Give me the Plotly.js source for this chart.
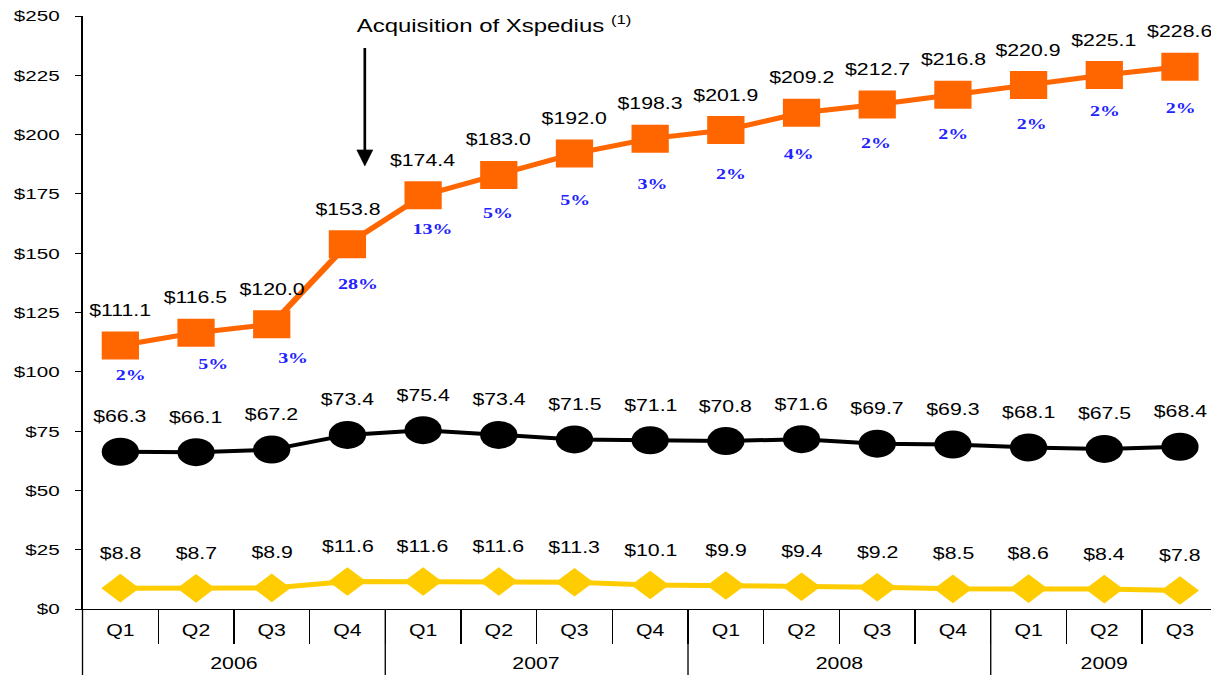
<!DOCTYPE html>
<html>
<head>
<meta charset="utf-8">
<script src="https://cdn.plot.ly/plotly-3.0.1.min.js"></script>
<style>
html, body { margin: 0; padding: 0; background: #fff; overflow: hidden; }
#wrap { width: 1211px; height: 675px; overflow: hidden; }
#chart { width: 910px; height: 675px; transform: scaleX(1.33077); transform-origin: 0 0; }
</style>
</head>
<body>
<div id="wrap"><div id="chart"></div></div>
<script>
// ---- data ----
const quarters = ['Q1','Q2','Q3','Q4','Q1','Q2','Q3','Q4','Q1','Q2','Q3','Q4','Q1','Q2','Q3'];
const years = ['2006','2007','2008','2009'];
const quartersPerYear = [4, 4, 4, 3];
const seriesOrange = [111.1, 116.5, 120.0, 153.8, 174.4, 183.0, 192.0, 198.3, 201.9, 209.2, 212.7, 216.8, 220.9, 225.1, 228.6];
const seriesBlack  = [66.3, 66.1, 67.2, 73.4, 75.4, 73.4, 71.5, 71.1, 70.8, 71.6, 69.7, 69.3, 68.1, 67.5, 68.4];
const seriesYellow = [8.8, 8.7, 8.9, 11.6, 11.6, 11.6, 11.3, 10.1, 9.9, 9.4, 9.2, 8.5, 8.6, 8.4, 7.8];
const growthLabels = ['2%','5%','3%','28%','13%','5%','5%','3%','2%','4%','2%','2%','2%','2%','2%'];
const yTickVals = [0, 25, 50, 75, 100, 125, 150, 175, 200, 225, 250];
const acquisitionText = 'Acquisition of Xspedius <sup>(1)</sup>';

// ---- layout / style constants (not data) ----
const acquisitionX = 3.23;      // arrow sits between 2006 Q4 and 2007 Q1
const acquisitionTipY = 186.8;
// per-label nudges (pixels) for the growth-rate labels, as placed in the original slide
const growthNudgeX = [11, 17, 22, 10, 10, -1, 1, 3, 5, -3, -1, 1, 3, 1, 1];
const growthNudgeY = [30, 31, 34, 40, 34, 38, 46, 45, 44, 41, 39, 39, 39, 36, 41];
const STRETCH = 1.33077;

const FONT = 'Arial, "Liberation Sans", sans-serif';
const SERIF = '"Times New Roman", "Liberation Serif", serif';
const ORANGE = '#FF6600', BLACK = '#000000', YELLOW = '#FFCC00', BLUE = '#2222FF';

const xIdx = quarters.map((q, i) => i);

const traces = [
  { x: xIdx, y: seriesYellow, type: 'scatter', mode: 'lines+markers',
    line: { color: YELLOW, width: 5 },
    marker: { symbol: 'diamond', size: 22, color: YELLOW }, hoverinfo: 'skip' },
  { x: xIdx, y: seriesBlack, type: 'scatter', mode: 'lines+markers',
    line: { color: BLACK, width: 4 },
    marker: { symbol: 'circle', size: 28, color: BLACK }, hoverinfo: 'skip' },
  { x: xIdx, y: seriesOrange, type: 'scatter', mode: 'lines+markers',
    line: { color: ORANGE, width: 5 },
    marker: { symbol: 'square', size: 28, color: ORANGE }, hoverinfo: 'skip' }
];

const annotations = [];
function valueLabels(arr) {
  arr.forEach((v, i) => annotations.push({
    x: i, y: v, xref: 'x', yref: 'y', text: '$' + v.toFixed(1), showarrow: false,
    yshift: 35, font: { family: FONT, size: 16, color: BLACK }
  }));
}
valueLabels(seriesOrange);
valueLabels(seriesBlack);
valueLabels(seriesYellow);
growthLabels.forEach((g, i) => annotations.push({
  x: i, y: seriesOrange[i], xref: 'x', yref: 'y', text: '<b>' + g + '</b>', showarrow: false,
  yshift: -growthNudgeY[i], xshift: growthNudgeX[i] / STRETCH,
  font: { family: SERIF, size: 15, color: BLUE }
}));

// year labels and year dividers
const shapes = [];
let start = 0;
quartersPerYear.forEach((n, k) => {
  annotations.push({
    x: start + (n - 1) / 2, y: -0.0927, xref: 'x', yref: 'paper', yanchor: 'middle',
    text: years[k], showarrow: false, font: { family: FONT, size: 16, color: BLACK }
  });
  if (k > 0) {
    shapes.push({ type: 'line', xref: 'x', yref: 'paper', x0: start - 0.5, x1: start - 0.5,
      y0: 0, y1: -0.13, line: { color: BLACK, width: 1 } });
  }
  start += n;
});
// left frame line extending below axis
shapes.push({ type: 'line', xref: 'paper', yref: 'paper', x0: 0, x1: 0, y0: 0, y1: -0.13,
  line: { color: BLACK, width: 1 } });

// acquisition arrow
shapes.push({ type: 'path', xref: 'x', yref: 'y', xsizemode: 'pixel', ysizemode: 'pixel',
  xanchor: acquisitionX, yanchor: acquisitionTipY, path: 'M0,118 L0,14',
  line: { color: BLACK, width: 2 } });
shapes.push({ type: 'path', xref: 'x', yref: 'y', xsizemode: 'pixel', ysizemode: 'pixel',
  xanchor: acquisitionX, yanchor: acquisitionTipY, path: 'M-6,16 L6,16 L0,0 Z',
  fillcolor: BLACK, line: { color: BLACK, width: 0.5 } });
annotations.push({
  x: 3.09, y: 246.5, xref: 'x', yref: 'y', xanchor: 'left', yanchor: 'middle',
  text: acquisitionText, showarrow: false, font: { family: FONT, size: 18, color: BLACK }
});

const layout = {
  width: 910, height: 675,
  margin: { l: 62, r: 0, t: 16, b: 66 },
  paper_bgcolor: '#fff', plot_bgcolor: '#fff',
  showlegend: false,
  font: { family: FONT, size: 16, color: BLACK },
  xaxis: {
    type: 'linear', range: [-0.5, 14.41], fixedrange: true,
    tickmode: 'array', tickvals: xIdx, ticktext: quarters,
    ticks: '', showgrid: false, zeroline: false,
    showline: true, linecolor: BLACK, linewidth: 1,
    ticklabelstandoff: 7,
    tickfont: { family: FONT, size: 16, color: BLACK },
    minor: { tickmode: 'linear', tick0: 0.5, dtick: 1, ticks: 'outside', ticklen: 34,
             tickcolor: BLACK, tickwidth: 1, showgrid: false }
  },
  yaxis: {
    range: [0, 250], fixedrange: true,
    tickmode: 'array', tickvals: yTickVals, ticktext: yTickVals.map(v => '$' + v),
    ticks: 'outside', ticklen: 5, tickcolor: BLACK, tickwidth: 1,
    showgrid: false, zeroline: false,
    showline: true, linecolor: BLACK, linewidth: 1,
    ticklabelstandoff: 8,
    tickfont: { family: FONT, size: 15.5, color: BLACK }
  },
  annotations: annotations,
  shapes: shapes
};

Plotly.newPlot('chart', traces, layout, { displayModeBar: false, staticPlot: true });
</script>
</body>
</html>
